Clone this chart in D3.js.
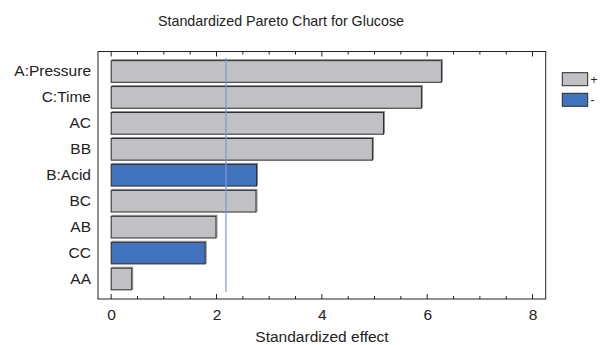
<!DOCTYPE html>
<html><head><meta charset="utf-8">
<script src="https://cdn.jsdelivr.net/npm/d3@7"></script>
<style>body{margin:0;background:#fff}svg{display:block;font-family:"Liberation Sans",Arial,sans-serif}</style>
</head><body><svg id="c" width="600" height="345"></svg>
<script>
const categories = ["A:Pressure","C:Time","AC","BB","B:Acid","BC","AB","CC","AA"];
const effects = [6.27, 5.89, 5.17, 4.96, 2.76, 2.75, 1.99, 1.785, 0.39];
const signs = ["+","+","+","+","-","+","+","-","+"];
const xTicks = [0,2,4,6,8];
const criticalValue = 2.179;
const legendLabels = ["+","-"];
const title = "Standardized Pareto Chart for Glucose";
const xTitle = "Standardized effect";

const svg = d3.select("#c");
const L = 98, R = 545.7, T = 51.5, B = 299;
const x = d3.scaleLinear().domain([-0.25, 8.25]).range([L, R]);
const y = d3.scaleBand().domain(categories).range([58.5, 292]).paddingInner(0.165).paddingOuter(0.0825);
const color = d => d === "+" ? "#c1c1c5" : "#4274bd";
const FF = "Liberation Sans, Arial, sans-serif";

svg.append("text").attr("x", 281).attr("y", 26).attr("text-anchor","middle")
  .attr("font-size", 15).attr("textLength", 246).attr("lengthAdjust","spacingAndGlyphs")
  .attr("fill","#222").text(title);

// bars with shadow
const g = svg.append("g");
categories.forEach((c,i)=>{
  g.append("rect").attr("x", x(0)+1).attr("y", y(c)-1).attr("width", x(effects[i])-x(0)).attr("height", y.bandwidth())
    .attr("fill","none").attr("stroke","#8a8a8a").attr("stroke-width",1);
  g.append("rect").attr("x", x(0)).attr("y", y(c)).attr("width", x(effects[i])-x(0)).attr("height", y.bandwidth())
    .attr("fill", color(signs[i])).attr("stroke","#2a2a2a").attr("stroke-width",1);
});

// critical line
svg.append("line").attr("x1", x(criticalValue)).attr("x2", x(criticalValue)).attr("y1", 58).attr("y2", 292)
  .attr("stroke","#7d98d4").attr("stroke-width",1.2);

// frame
svg.append("rect").attr("x",L).attr("y",T).attr("width",R-L).attr("height",B-T)
  .attr("fill","none").attr("stroke","#222").attr("stroke-width",1);

// ticks
const minor = d3.range(0, 8.01, 0.5);
minor.forEach(v=>{
  const major = xTicks.includes(v);
  const len = major ? 5 : 3;
  svg.append("line").attr("x1",x(v)).attr("x2",x(v)).attr("y1",B).attr("y2",B-len).attr("stroke","#222");
  svg.append("line").attr("x1",x(v)).attr("x2",x(v)).attr("y1",T).attr("y2",T+len).attr("stroke","#222");
});
const xa = svg.append("g").attr("transform",`translate(0,${B})`)
  .call(d3.axisBottom(x).tickValues(xTicks).tickSize(0).tickPadding(10).tickFormat(d3.format("d")));
xa.select(".domain").remove();
xa.selectAll("text").attr("font-size",15.5).attr("fill","#222").attr("font-family",FF);

const ya = svg.append("g").attr("transform",`translate(${L},0)`)
  .call(d3.axisLeft(y).tickSize(0).tickPadding(7));
ya.select(".domain").remove();
ya.selectAll("text").attr("font-size",15.5).attr("fill","#222").attr("font-family",FF);

svg.append("text").attr("x", 322).attr("y", 342).attr("text-anchor","middle")
  .attr("font-size",15.5).attr("fill","#222").text(xTitle);

// legend
legendLabels.forEach((l,i)=>{
  const yy = 72.7 + i*20.6;
  svg.append("rect").attr("x",562.3).attr("y",yy).attr("width",25.4).attr("height",13)
    .attr("fill", color(l)).attr("stroke","#2a2a2a");
  svg.append("text").attr("x",590.5).attr("y",yy+11).attr("font-size",12).attr("fill","#222").text(l);
});
</script></body></html>
